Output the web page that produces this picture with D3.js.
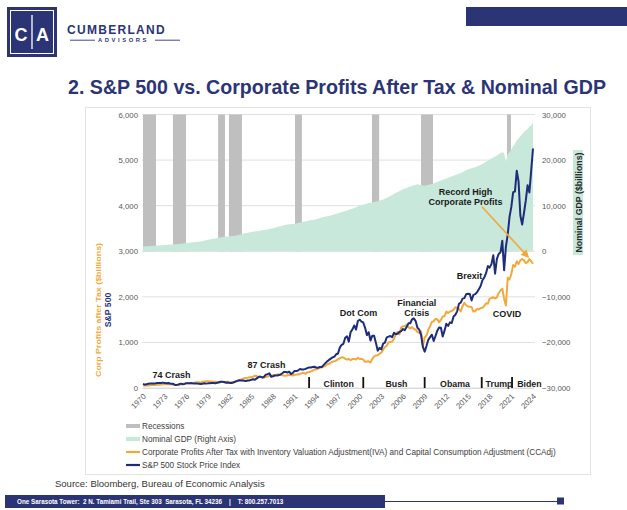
<!DOCTYPE html>
<html><head><meta charset="utf-8">
<script src="https://cdn.jsdelivr.net/npm/d3@7"></script>
<style>
body{margin:0;background:#fff}
svg{display:block}
text{font-family:Arial,"Liberation Sans",sans-serif}
</style>
</head><body>
<svg id="c" width="627" height="510"></svg>
<script>
// ---------------- DATA ----------------
// S&P 500 quarter-end index, 1970Q1 .. 2024Q1
const spx = [
89.6,72.7,84.3,92.2, 100.3,99.0,98.3,102.1, 107.2,107.1,110.6,118.1, 111.5,104.3,108.4,97.6,
94.0,86.0,63.5,68.6, 83.4,95.2,83.9,90.2, 102.8,104.3,105.2,107.5, 98.4,100.5,96.5,95.1,
89.2,95.5,102.5,96.1, 101.6,102.9,109.3,107.9, 102.1,114.2,125.5,135.8, 136.0,131.2,116.2,122.6,
112.0,109.6,120.4,140.6, 153.0,168.1,166.1,164.9, 159.2,153.2,166.1,167.2, 180.7,191.9,182.1,211.3,
238.9,250.8,231.3,242.2, 291.7,304.0,321.8,247.1, 258.9,273.5,271.9,277.7, 294.9,318.0,349.2,353.4,
339.9,358.0,306.1,330.2, 375.2,371.2,387.9,417.1, 403.7,408.1,417.8,435.7, 451.7,450.5,458.9,466.5,
445.8,444.3,462.7,459.3, 500.7,544.8,584.4,615.9, 645.5,670.6,687.3,740.7, 757.1,885.1,947.3,970.4,
1101.8,1133.8,1017.0,1229.2, 1286.4,1372.7,1282.7,1469.3, 1498.6,1454.6,1436.5,1320.3, 1160.3,1224.4,1040.9,1148.1,
1147.4,989.8,815.3,879.8, 848.2,974.5,996.0,1111.9, 1126.2,1140.8,1114.6,1211.9, 1180.6,1191.3,1228.8,1248.3,
1294.8,1270.2,1335.9,1418.3, 1420.9,1503.3,1526.8,1468.4, 1322.7,1280.0,1166.4,903.3, 797.9,919.3,1057.1,1115.1,
1169.4,1030.7,1141.2,1257.6, 1325.8,1320.6,1131.4,1257.6, 1408.5,1362.2,1440.7,1426.2, 1569.2,1606.3,1681.6,1848.4,
1872.3,1960.2,1972.3,2058.9, 2067.9,2063.1,1920.0,2043.9, 2059.7,2098.9,2168.3,2238.8, 2362.7,2423.4,2519.4,2673.6,
2640.9,2718.4,2914.0,2506.9, 2834.4,2941.8,2976.7,3230.8, 2584.6,3100.3,3363.0,3756.1, 3972.9,4297.5,4307.5,4766.2,
4530.4,3785.4,3585.6,3839.5, 4109.3,4450.4,4288.1,4769.8, 5254.4
];
// Corporate profits after tax with IVA and CCAdj ($bn, SAAR), 1970Q1 .. 2024Q1
const profits = [
57,55,56,53, 62,64,66,68, 71,73,75,80, 83,82,80,81,
76,70,66,68, 72,83,95,97, 103,104,104,104, 112,121,128,124,
118,138,140,146, 146,142,143,135, 137,118,122,126, 134,127,138,139,
121,126,127,131, 145,165,180,191, 215,222,225,235, 240,250,268,262,
245,240,238,230, 240,252,272,270, 282,288,292,300, 290,278,272,268,
280,288,278,275, 290,295,296,308, 328,332,310,345, 352,365,378,410,
405,428,442,450, 468,480,520,530, 558,578,585,600, 632,650,675,668,
640,625,636,614, 636,638,625,664, 636,640,624,575, 580,585,560,640,
695,715,718,752, 775,842,900,928, 1005,1010,1020,1075, 1190,1230,1175,1330,
1352,1355,1390,1335, 1305,1335,1296,1280, 1228,1208,1240,915, 1108,1148,1280,1355,
1450,1465,1515,1508, 1445,1495,1570,1575, 1675,1645,1680,1690, 1720,1770,1758,1730,
1678,1795,1870,1815, 1790,1783,1776,1678, 1690,1732,1722,1756, 1760,1800,1860,1850,
1960,1975,1990,1965, 1990,2080,2140,2180, 1960,1810,2420,2380, 2500,2700,2660,2780,
2720,2800,2830,2800, 2740,2760,2830,2780, 2725
];
// Nominal GDP ($bn, SAAR)
const gdpDates = [1970,1971,1972,1973,1974,1975,1976,1977,1978,1979,1980,1981,1982,1983,1984,1985,1986,1987,1988,1989,
  1990,1991,1992,1993,1994,1995,1996,1997,1998,1999,2000,2001,2002,2003,2004,2005,2006,2007,2008,2009,
  2010,2011,2012,2013,2014,2015,2016,2017,2018,2019,2019.25,2019.5,2019.75,2020,2020.25,2020.5,2020.75,
  2021,2021.25,2021.5,2021.75,2022,2022.25,2022.5,2022.75,2023,2023.25,2023.5,2023.75,2024];
const gdpValues = [1051,1137,1245,1388,1497,1600,1822,1991,2164,2504,2790,3131,3274,3480,3907,4230,4463,4723,5070,5482,
  5872,6035,6364,6729,7033,7522,7868,8363,8830,9339,9999,10471,10784,11175,11923,12763,13599,14216,14681,14379,
  14764,15351,15973,16569,17144,17991,18425,19148,20155,21001,21290,21530,21707,21539,19636,21363,21704,
  22314,23047,23550,24349,24741,25249,25724,26138,26530,26841,27342,27610,28270];
// Recession shading (start, end) as placed on the chart
const recessionStart = [1970.0, 1974.15, 1980.4, 1981.9, 1991.05, 2001.7, 2008.5, 2020.4];
const recessionEnd   = [1971.8, 1975.95, 1981.35, 1983.7, 1992.0, 2002.7, 2010.15, 2020.95];
// Axis ticks
const yearTicks = [1970,1973,1976,1979,1982,1985,1988,1991,1994,1997,2000,2003,2006,2009,2012,2015,2018,2021,2024];
const leftTicks = [0,1000,2000,3000,4000,5000,6000];
const rightTicks = [-30000,-20000,-10000,0,10000,20000,30000];
// Presidential terms
const presidentNames = ["Clinton","Bush","Obama","Trump","Biden"];
const presidentStart = [1993, 2000.5, 2009, 2016.9, 2021.1];
const presidentLabelAt = [1997.1, 2005.1, 2013.2, 2019.3, 2023.5];
// Annotations: text lines, year, value (left axis)
const annotations = [
  {lines:["74 Crash"], year:1973.95, value:215},
  {lines:["87 Crash"], year:1987.1, value:435},
  {lines:["Dot Com"], year:1999.84, value:1578},
  {lines:["Financial","Crisis"], year:2007.9, value:1798},
  {lines:["Brexit"], year:2015.2, value:2391},
  {lines:["COVID"], year:2020.4, value:1556},
  {lines:["Record High","Corporate Profits"], year:2014.65, value:4237}
];
const arrowFrom = {year:2016.94, value:3978};
const arrowTo = {year:2023.3, value:2879};
const legendItems = ["Recessions","Nominal GDP (Right Axis)",
  "Corporate Profits After Tax with Inventory Valuation Adjustment(IVA) and Capital Consumption Adjustment (CCAdj)",
  "S&P 500 Stock Price Index"];

// ---------------- STYLE ----------------
const NAVY = "#2B3576", BLUE = "#1F2C78", ORANGE = "#F2A93B", MINT = "#C7E8DA", GRAY = "#BFBFBF";
const svg = d3.select("#c");

// ---------------- HEADER ----------------
svg.append("rect").attr("x",7).attr("y",7).attr("width",50).attr("height",50).attr("fill",NAVY);
svg.append("rect").attr("x",10.5).attr("y",10.5).attr("width",43).attr("height",43).attr("fill","none").attr("stroke","#fff").attr("stroke-width",1);
svg.append("line").attr("x1",32).attr("x2",32).attr("y1",15).attr("y2",49).attr("stroke","#fff").attr("stroke-width",1.3);
svg.append("text").attr("x",21).attr("y",40.5).attr("text-anchor","middle").attr("fill","#fff").attr("font-size",18).attr("font-weight","bold").text("C");
svg.append("text").attr("x",42.5).attr("y",40.5).attr("text-anchor","middle").attr("fill","#fff").attr("font-size",18).attr("font-weight","bold").text("A");
svg.append("text").attr("x",67).attr("y",33.5).attr("fill",NAVY).attr("font-size",12).attr("font-weight","bold")
  .attr("letter-spacing",1.3).text("CUMBERLAND");
svg.append("text").attr("x",98).attr("y",42.3).attr("fill",NAVY).attr("font-size",5.8).attr("font-weight","bold")
  .attr("letter-spacing",2.6).text("ADVISORS");
svg.append("line").attr("x1",70).attr("x2",95).attr("y1",40.2).attr("y2",40.2).attr("stroke",NAVY).attr("stroke-width",0.9);
svg.append("line").attr("x1",155).attr("x2",180).attr("y1",40.2).attr("y2",40.2).attr("stroke",NAVY).attr("stroke-width",0.9);
svg.append("rect").attr("x",466).attr("y",7).attr("width",161).attr("height",19).attr("fill",NAVY);
const title = svg.append("text").attr("x",68).attr("y",94).attr("fill",NAVY).attr("font-size",20).attr("font-weight","bold")
  .text("2. S&P 500 vs. Corporate Profits After Tax & Nominal GDP");
const tl = title.node().getComputedTextLength();
if (tl > 0) title.attr("font-size", 20 * 538 / tl);

// chart frame
svg.append("rect").attr("x",85.5).attr("y",107.5).attr("width",505).attr("height",367).attr("fill","none").attr("stroke","#E3E3E3");

// ---------------- SCALES ----------------
const x = d3.scaleLinear().domain([1970, 2024]).range([143, 533]);
const yL = d3.scaleLinear().domain([0, 6000]).range([388, 114.5]);
const yR = d3.scaleLinear().domain([-30000, 30000]).range([388, 114.5]);
const qDate = i => 1970 + i / 4;

// gridlines
svg.append("g").selectAll("line").data(leftTicks).join("line")
  .attr("x1",142).attr("x2",535).attr("y1",d=>yL(d)).attr("y2",d=>yL(d))
  .attr("stroke","#E0E0E0").attr("stroke-width",1);

// recessions
svg.append("g").selectAll("rect").data(recessionStart).join("rect")
  .attr("x",(d)=>x(d)).attr("width",(d,i)=>x(recessionEnd[i])-x(d))
  .attr("y",yR(30000)).attr("height",yR(0)-yR(30000)).attr("fill",GRAY);

// GDP area
const gdp = gdpDates.map((d,i)=>[d, gdpValues[i]]);
svg.append("path").datum(gdp)
  .attr("d", d3.area().x(d=>x(d[0])).y0(yR(0)).y1(d=>yR(d[1])))
  .attr("fill", MINT);

// Lines
const lineL = d3.line().x((d,i)=>x(qDate(i))).y(d=>yL(d));
svg.append("path").datum(profits).attr("d",lineL).attr("fill","none").attr("stroke",ORANGE).attr("stroke-width",2).attr("stroke-linejoin","round");
svg.append("path").datum(spx).attr("d",lineL).attr("fill","none").attr("stroke",BLUE).attr("stroke-width",2).attr("stroke-linejoin","round");

// arrow
svg.append("defs").append("marker").attr("id","ah").attr("viewBox","0 0 10 10").attr("refX",8).attr("refY",5)
  .attr("markerWidth",5).attr("markerHeight",5).attr("orient","auto")
  .append("path").attr("d","M0,0L10,5L0,10z").attr("fill",ORANGE);
svg.append("line").attr("x1",x(arrowFrom.year)).attr("y1",yL(arrowFrom.value))
  .attr("x2",x(arrowTo.year)).attr("y2",yL(arrowTo.value))
  .attr("stroke",ORANGE).attr("stroke-width",1.6).attr("marker-end","url(#ah)");

// left axis
const axL = svg.append("g").attr("transform","translate(138,0)")
  .call(d3.axisLeft(yL).tickValues(leftTicks).tickSize(0).tickPadding(0).tickFormat(d3.format(",")));
axL.select(".domain").remove();
axL.selectAll("text").attr("fill","#595959").attr("font-size",7.8).attr("dy","0.32em");
// right axis
const axR = svg.append("g").attr("transform","translate(542,0)")
  .call(d3.axisRight(yR).tickValues(rightTicks).tickSize(0).tickPadding(0).tickFormat(d3.format(",")));
axR.select(".domain").remove();
axR.selectAll("text").attr("fill","#595959").attr("font-size",7.8).attr("dy","0.32em");
// x axis labels
const axX = svg.append("g").attr("transform",`translate(0,${yL(0)})`)
  .call(d3.axisBottom(x).tickValues(yearTicks).tickSize(0).tickPadding(0).tickFormat(d3.format("d")));
axX.select(".domain").attr("stroke","#D9D9D9");
axX.selectAll("text").attr("fill","#595959").attr("font-size",7.8)
  .attr("text-anchor","end").attr("dy",0).attr("y",0)
  .attr("transform","translate(3,9) rotate(-45)");

// axis titles
svg.append("text").attr("transform","translate(101,310) rotate(-90)").attr("text-anchor","middle")
  .attr("fill",ORANGE).attr("font-size",8).attr("font-weight","bold")
  .attr("textLength",134).attr("lengthAdjust","spacingAndGlyphs").text("Corp Profits after Tax ($billions)");
svg.append("text").attr("transform","translate(111,310) rotate(-90)").attr("text-anchor","middle")
  .attr("fill",NAVY).attr("font-size",8.7).attr("font-weight","bold").text("S&P 500");
svg.append("rect").attr("x",573).attr("y",150).attr("width",10).attr("height",105).attr("fill",MINT);
svg.append("text").attr("transform","translate(581.5,202.5) rotate(-90)").attr("text-anchor","middle")
  .attr("fill","#262626").attr("font-size",8.8).attr("font-weight","bold").text("Nominal GDP ($billions)");

// presidents
svg.append("g").selectAll("line").data(presidentStart).join("line")
  .attr("x1",d=>x(d)).attr("x2",d=>x(d)).attr("y1",yL(0)).attr("y2",yL(240))
  .attr("stroke","#111").attr("stroke-width",1.8);
svg.append("g").selectAll("text").data(presidentNames).join("text")
  .attr("x",(d,i)=>x(presidentLabelAt[i])).attr("y",yL(0)-1).attr("text-anchor","middle")
  .attr("fill","#1a1a1a").attr("font-size",8.8).attr("font-weight","bold").text(d=>d);

// annotations
const ann = svg.append("g").selectAll("text").data(annotations).join("text")
  .attr("x",d=>x(d.year)).attr("y",d=>yL(d.value)).attr("text-anchor","middle")
  .attr("fill","#1a1a1a").attr("font-size",9).attr("font-weight","bold");
ann.selectAll("tspan").data(d=>d.lines.map(l=>({l, x:x(d.year)}))).join("tspan")
  .attr("x",t=>t.x).attr("dy",(t,i)=>i===0?0:10).text(t=>t.l);

// legend
const lg = svg.append("g");
const ly = [426, 439, 452, 465];
lg.append("rect").attr("x",126).attr("y",ly[0]-2).attr("width",14).attr("height",4).attr("fill",GRAY);
lg.append("rect").attr("x",126).attr("y",ly[1]-2).attr("width",14).attr("height",4).attr("fill",MINT);
lg.append("line").attr("x1",126).attr("x2",140).attr("y1",ly[2]).attr("y2",ly[2]).attr("stroke",ORANGE).attr("stroke-width",2.2);
lg.append("line").attr("x1",126).attr("x2",140).attr("y1",ly[3]).attr("y2",ly[3]).attr("stroke",BLUE).attr("stroke-width",2.2);
lg.selectAll("text").data(legendItems).join("text")
  .attr("x",142).attr("y",(d,i)=>ly[i]+3).attr("fill","#404040").attr("font-size",8.2).text(d=>d);

// source
svg.append("text").attr("x",55).attr("y",487).attr("fill","#333").attr("font-size",9.5).text("Source: Bloomberg, Bureau of Economic Analysis");

// footer
svg.append("rect").attr("x",5).attr("y",495).attr("width",380).attr("height",13).attr("fill",NAVY);
svg.append("text").attr("x",17).attr("y",504).attr("fill","#fff").attr("font-size",6.3).attr("font-weight","bold")
  .attr("xml:space","preserve").text("One Sarasota Tower:  2 N. Tamiami Trail, Ste 303  Sarasota, FL 34236    |    T: 800.257.7013");
svg.append("line").attr("x1",385).attr("x2",560).attr("y1",501.5).attr("y2",501.5).attr("stroke",NAVY).attr("stroke-width",1);
svg.append("rect").attr("x",557).attr("y",497.5).attr("width",7).attr("height",7).attr("fill",NAVY);
</script>
</body></html>
